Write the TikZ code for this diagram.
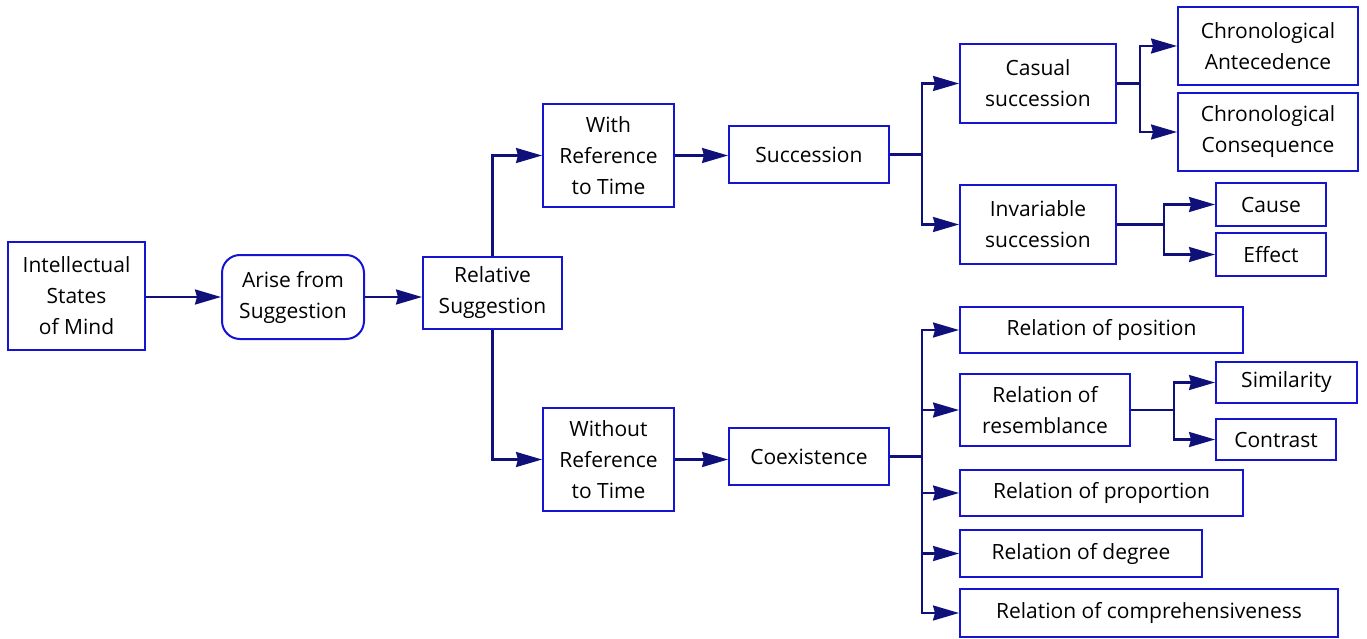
\documentclass[tikz,border=0pt]{standalone}
\usepackage{fontspec}
\setmainfont{Open Sans}
\usetikzlibrary{arrows.meta}
\definecolor{boxblue}{HTML}{1414D2}
\definecolor{linknavy}{HTML}{10107A}
\begin{document}
\begin{tikzpicture}[x=1pt,y=-1pt,
  box/.style={draw=boxblue, line width=2pt, fill=white, inner sep=0pt,
    align=center, font=\fontsize{21}{31}\selectfont, text=black},
  conn/.style={draw=linknavy, line width=2.2pt,
    -{Stealth[length=26pt,width=15pt,inset=2pt]}},
  trunk/.style={draw=linknavy, line width=2.2pt}]
\useasboundingbox (0,0) rectangle (1367,639);

% main chain
\node[box, minimum width=137pt, minimum height=108pt] (ism) at (76.5,296) {Intellectual\\States\\of Mind};
\node[box, rounded corners=18pt, minimum width=142pt, minimum height=84pt] (arise) at (293,297) {Arise from\\Suggestion};
\node[box, minimum width=139pt, minimum height=72pt] (rel) at (492.5,293) {Relative\\Suggestion};

% time branch
\node[box, minimum width=131pt, minimum height=103pt] (with) at (608.5,155.5) {With\\Reference\\to Time};
\node[box, minimum width=131pt, minimum height=103pt] (without) at (608.5,459.5) {Without\\Reference\\to Time};
\node[box, minimum width=160pt, minimum height=57pt] (succ) at (809,154.5) {Succession};
\node[box, minimum width=160pt, minimum height=57pt] (coex) at (809,456.5) {Coexistence};

% succession leaves
\node[box, minimum width=156pt, minimum height=79pt] (casual) at (1038,83.5) {Casual\\succession};
\node[box, minimum width=156pt, minimum height=79pt] (invar) at (1038,224.5) {Invariable\\succession};
\node[box, minimum width=180pt, minimum height=78pt] (ante) at (1268,46) {Chronological\\Antecedence};
\node[box, minimum width=180pt, minimum height=78pt] (conseq) at (1268,132) {Chronological\\Consequence};
\node[box, minimum width=110pt, minimum height=43pt] (cause) at (1271,204.5) {Cause};
\node[box, minimum width=110pt, minimum height=43pt] (effect) at (1271,254.5) {Effect};

% coexistence leaves
\node[box, minimum width=283pt, minimum height=46pt] (pos) at (1101.5,330) {Relation of position};
\node[box, minimum width=170pt, minimum height=72pt] (resem) at (1045,410) {Relation of\\resemblance};
\node[box, minimum width=141pt, minimum height=41pt] (simil) at (1286.5,382.5) {Similarity};
\node[box, minimum width=120pt, minimum height=41pt] (contr) at (1276,439.5) {Contrast};
\node[box, minimum width=283pt, minimum height=46pt] (prop) at (1101.5,493) {Relation of proportion};
\node[box, minimum width=242pt, minimum height=47pt] (degr) at (1081,553.5) {Relation of degree};
\node[box, minimum width=378pt, minimum height=48pt] (compr) at (1149,613) {Relation of comprehensiveness};

% junction points
\coordinate (jsucc) at ([xshift=32pt]succ.east);
\coordinate (jcoex) at ([xshift=32pt]coex.east);
\coordinate (jcas) at ([xshift=23pt]casual.east);
\coordinate (jinv) at ([xshift=47pt]invar.east);
\coordinate (jres) at ([xshift=43pt]resem.east);

% connectors
\draw[conn] (arise.west -| ism.east) -- (arise.west);
\draw[conn] (arise.east) -- (arise.east -| rel.west);
\draw[conn] (rel.north) |- (with.west);
\draw[conn] (rel.south) |- (without.west);
\draw[conn] (with.east) -- (with.east -| succ.west);
\draw[conn] (without.east) -- (without.east -| coex.west);

\draw[trunk] (succ.east) -- (jsucc);
\draw[conn] (jsucc) |- (casual.west);
\draw[conn] (jsucc) |- (invar.west);

\draw[trunk] (casual.east) -- (jcas);
\draw[conn] (jcas) |- (ante.west);
\draw[conn] (jcas) |- (conseq.west);

\draw[trunk] (invar.east) -- (jinv);
\draw[conn] (jinv) |- (cause.west);
\draw[conn] (jinv) |- (effect.west);

\draw[trunk] (coex.east) -- (jcoex);
\draw[conn] (jcoex) |- (pos.west);
\draw[conn] (jcoex) |- (resem.west);
\draw[conn] (jcoex) |- (prop.west);
\draw[conn] (jcoex) |- (degr.west);
\draw[conn] (jcoex) |- (compr.west);

\draw[trunk] (resem.east) -- (jres);
\draw[conn] (jres) |- (simil.west);
\draw[conn] (jres) |- (contr.west);
\end{tikzpicture}
\end{document}
